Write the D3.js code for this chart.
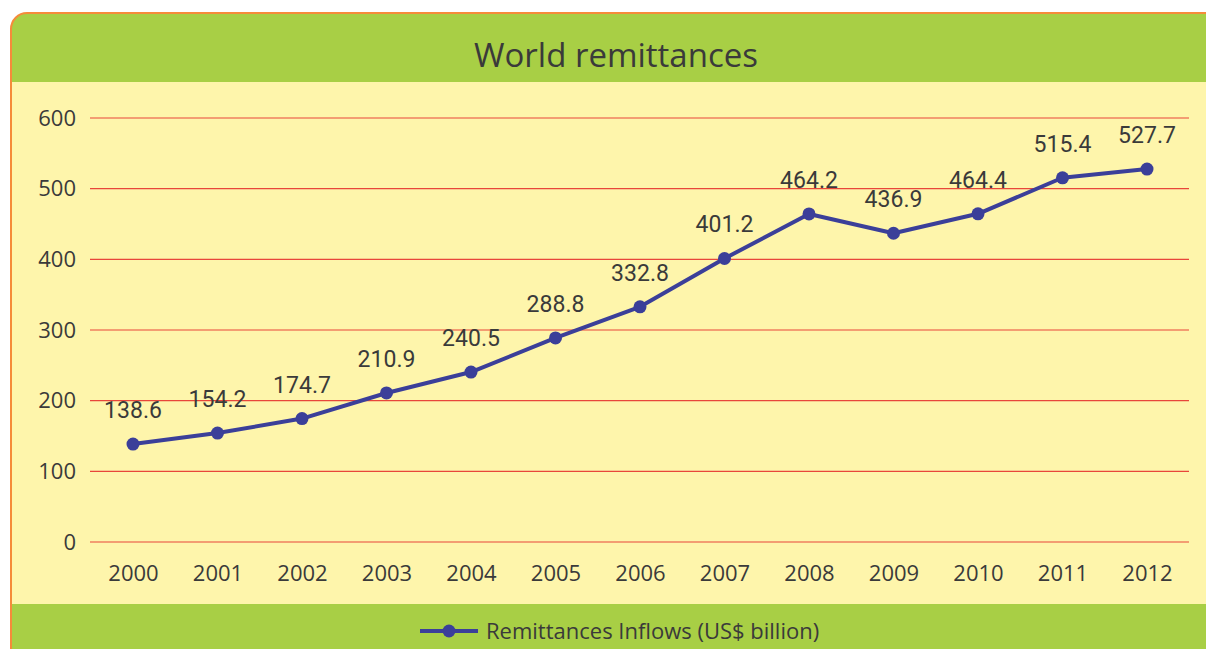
<!DOCTYPE html>
<html>
<head>
<meta charset="utf-8">
<script src="https://cdn.jsdelivr.net/npm/d3@7"></script>
<style>
  body { margin: 0; background: #fff; }
  svg { display: block; }
</style>
</head>
<body>
<script>
var width = 1206,
  height = 649;

var years = ['2000', '2001', '2002', '2003', '2004', '2005', '2006',
  '2007', '2008', '2009', '2010', '2011', '2012'];
var inflows = [138.6, 154.2, 174.7, 210.9, 240.5, 288.8, 332.8,
  401.2, 464.2, 436.9, 464.4, 515.4, 527.7];
var yTicks = [0, 100, 200, 300, 400, 500, 600];
var seriesName = 'Remittances Inflows (US$ billion)';
var title = 'World remittances';

var green = '#a8cf45',
  cream = '#fef5ab',
  orange = '#f58b3a',
  grid = '#e8463a',
  navy = '#3b3f99',
  ink = '#3a3a3a';

var svg = d3.select('body').append('svg')
  .attr('width', width)
  .attr('height', height);

// panel frame
var clip = svg.append('defs').append('clipPath').attr('id', 'panel');
clip.append('rect')
  .attr('x', 11).attr('y', 13)
  .attr('width', 1220).attr('height', 660)
  .attr('rx', 16);

var panel = svg.append('g').attr('clip-path', 'url(#panel)');
panel.append('rect').attr('x', 0).attr('y', 0).attr('width', width).attr('height', height).attr('fill', green);
panel.append('rect').attr('x', 0).attr('y', 82).attr('width', width).attr('height', 522).attr('fill', cream);

svg.append('rect')
  .attr('x', 11).attr('y', 13)
  .attr('width', 1220).attr('height', 660)
  .attr('rx', 16)
  .attr('fill', 'none')
  .attr('stroke', orange)
  .attr('stroke-width', 2);

svg.append('text')
  .attr('x', 616).attr('y', 67)
  .attr('text-anchor', 'middle')
  .attr('font-family', '"Open Sans", sans-serif')
  .attr('font-size', 33)
  .attr('fill', ink)
  .text(title);

var x = d3.scalePoint()
  .domain(years)
  .range([133, 1147]);

var y = d3.scaleLinear()
  .domain([0, 600])
  .range([542, 118]);

// gridlines
svg.append('g')
  .selectAll('line')
  .data(yTicks)
  .enter().append('line')
    .attr('x1', 90).attr('x2', 1189)
    .attr('y1', function(d) { return y(d); })
    .attr('y2', function(d) { return y(d); })
    .attr('stroke', grid)
    .attr('stroke-width', 1.2);

var yAxis = d3.axisLeft(y).tickValues(yTicks).tickSize(0).tickPadding(0);
svg.append('g')
  .attr('transform', 'translate(76,0)')
  .call(yAxis)
  .call(function(g) { g.select('.domain').remove(); })
  .selectAll('text')
    .attr('font-family', '"Open Sans", sans-serif')
    .attr('font-size', 22)
    .attr('fill', ink);

var xAxis = d3.axisBottom(x).tickSize(0).tickPadding(0);
svg.append('g')
  .attr('transform', 'translate(0,565)')
  .call(xAxis)
  .call(function(g) { g.select('.domain').remove(); })
  .selectAll('text')
    .attr('font-family', '"Open Sans", sans-serif')
    .attr('font-size', 22)
    .attr('fill', ink);

var pts = years.map(function(yr, i) { return { year: yr, value: inflows[i] }; });

var line = d3.line()
  .x(function(d) { return x(d.year); })
  .y(function(d) { return y(d.value); });

svg.append('path')
  .datum(pts)
  .attr('d', line)
  .attr('fill', 'none')
  .attr('stroke', navy)
  .attr('stroke-width', 4)
  .attr('stroke-linejoin', 'round');

svg.append('g')
  .selectAll('circle')
  .data(pts)
  .enter().append('circle')
    .attr('cx', function(d) { return x(d.year); })
    .attr('cy', function(d) { return y(d.value); })
    .attr('r', 6.5)
    .attr('fill', navy);

svg.append('g')
  .selectAll('text')
  .data(pts)
  .enter().append('text')
    .attr('x', function(d) { return x(d.year); })
    .attr('y', function(d) { return y(d.value) - 26; })
    .attr('text-anchor', 'middle')
    .attr('font-family', 'Roboto, sans-serif')
    .attr('font-size', 23)
    .attr('fill', ink)
    .text(function(d) { return d.value.toFixed(1); });

// legend
var legend = svg.append('g').attr('transform', 'translate(420,631)');
legend.append('line')
  .attr('x1', 0).attr('x2', 58)
  .attr('stroke', navy).attr('stroke-width', 4);
legend.append('circle')
  .attr('cx', 29).attr('r', 6.5).attr('fill', navy);
legend.append('text')
  .attr('x', 66).attr('y', 8)
  .attr('font-family', '"Open Sans", sans-serif')
  .attr('font-size', 22)
  .attr('fill', ink)
  .text(seriesName);
</script>
</body>
</html>
